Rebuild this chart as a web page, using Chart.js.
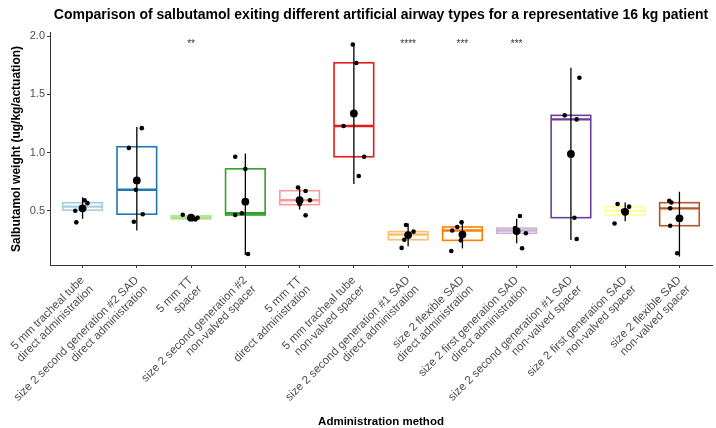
<!DOCTYPE html>
<html>
<head>
<meta charset="utf-8">
<script src="https://cdn.jsdelivr.net/npm/chart.js@4.4.1/dist/chart.umd.min.js"></script>
<style>
  html, body { margin: 0; padding: 0; background: #fff; }
</style>
</head>
<body>
<canvas id="salbutamolChart" width="716" height="428"></canvas>
<script>
// airway / administration groups (two-line tick labels)
var categories = [
  ['5 mm tracheal tube', 'direct administration'],
  ['size 2 second generation #2 SAD', 'direct administration'],
  ['5 mm TT', 'spacer'],
  ['size 2 second generation #2', 'non-valved spacer'],
  ['5 mm TT', 'direct administration'],
  ['5 mm tracheal tube', 'non-valved spacer'],
  ['size 2 second generation #1 SAD', 'direct administration'],
  ['size 2 flexible SAD', 'direct administration'],
  ['size 2 first generation SAD', 'direct administration'],
  ['size 2 second generation #1 SAD', 'non-valved spacer'],
  ['size 2 first generation SAD', 'non-valved spacer'],
  ['size 2 flexible SAD', 'non-valved spacer']
];
var boxColors = ['#A6CEE3', '#1F78B4', '#B2DF8A', '#33A02C', '#FB9A99', '#E31A1C',
                 '#FDBF6F', '#FF7F00', '#CAB2D6', '#6A3D9A', '#FFFF99', '#B15928'];

// box statistics (ug/kg/actuation)
var q1      = [0.505, 0.47, 0.430, 0.463, 0.552, 0.964, 0.250, 0.245, 0.306, 0.44, 0.463, 0.371];
var medians = [0.535, 0.68, 0.440, 0.478, 0.590, 1.228, 0.295, 0.330, 0.330, 1.285, 0.497, 0.520];
var q3      = [0.568, 1.05, 0.455, 0.860, 0.672, 1.772, 0.320, 0.360, 0.350, 1.32, 0.535, 0.569];

// mean with 95% CI
var means  = [0.52, 0.76, 0.44, 0.578, 0.59, 1.337, 0.29, 0.295, 0.325, 0.988, 0.49, 0.434];
var ciLow  = [0.43, 0.33, 0.42, 0.12, 0.51, 0.73, 0.195, 0.176, 0.22, 0.248, 0.41, 0.105];
var ciHigh = [0.615, 1.22, 0.465, 0.993, 0.695, 1.94, 0.39, 0.42, 0.43, 1.73, 0.57, 0.663];

// individual measurements and their horizontal jitter (category units)
var pointValues = [
  [0.40, 0.50, 0.53, 0.565, 0.59],
  [1.04, 1.21, 0.68, 0.47, 0.405],
  [0.465, 0.435, 0.44, 0.425, 0.44],
  [0.964, 0.858, 0.478, 0.463, 0.128],
  [0.70, 0.67, 0.59, 0.555, 0.46],
  [1.93, 1.77, 1.228, 0.964, 0.798],
  [0.377, 0.32, 0.295, 0.25, 0.18],
  [0.40, 0.36, 0.33, 0.245, 0.154],
  [0.454, 0.35, 0.33, 0.306, 0.177],
  [1.643, 1.32, 1.285, 0.44, 0.257],
  [0.557, 0.535, 0.49, 0.50, 0.39],
  [0.586, 0.57, 0.52, 0.37, 0.134]
];
var pointJitter = [
  [-0.116, -0.134, 0.02, 0.09, 0.037],
  [-0.147, 0.092, -0.018, 0.11, -0.055],
  [-0.153, -0.03, 0.025, 0.08, 0.12],
  [-0.187, 0.0, -0.064, -0.187, 0.05],
  [-0.03, 0.11, 0.19, 0.0, 0.11],
  [-0.02, 0.045, -0.19, 0.19, 0.09],
  [-0.04, 0.1, 0.0, -0.07, -0.12],
  [-0.016, -0.095, -0.187, -0.028, -0.205],
  [0.06, -0.03, 0.0, 0.17, 0.1],
  [0.156, -0.114, 0.106, 0.064, 0.106],
  [-0.14, 0.073, 0.006, -0.04, -0.196],
  [-0.187, -0.15, -0.17, -0.17, -0.04]
];

var sigLabels = ['', '', '**', '', '', '', '****', '***', '***', '', '', ''];
var sigLevel = 1.935;
var yTicks = [0.5, 1.0, 1.5, 2.0];

var jitterData = [];
pointValues.forEach(function(vals, i) {
  vals.forEach(function(v, j) {
    jitterData.push({ x: i + pointJitter[i][j], y: v });
  });
});
var meanData = means.map(function(m, i) { return { x: i, y: m }; });

var FONT = "'Liberation Sans', Arial, sans-serif";

// boxes, medians and CI lines, drawn under the points
var boxPlotPlugin = {
  id: 'boxPlot',
  afterLayout: function(chart) {
    // centre the main title over the panel, as ggplot does
    if (chart.titleBlock) {
      chart.titleBlock.left = chart.chartArea.left;
      chart.titleBlock.right = chart.chartArea.right;
    }
  },
  beforeDatasetsDraw: function(chart) {
    var ctx = chart.ctx;
    var xs = chart.scales.x, ys = chart.scales.y;
    var half = xs.getPixelForValue(0.365) - xs.getPixelForValue(0);
    ctx.save();
    categories.forEach(function(c, i) {
      var cx = xs.getPixelForValue(i);
      var top = ys.getPixelForValue(q3[i]);
      var bot = ys.getPixelForValue(q1[i]);
      var med = ys.getPixelForValue(medians[i]);
      ctx.strokeStyle = boxColors[i];
      ctx.lineWidth = 1.6;
      ctx.strokeRect(cx - half, top, 2 * half, bot - top);
      ctx.lineWidth = 2.4;
      ctx.beginPath();
      ctx.moveTo(cx - half, med);
      ctx.lineTo(cx + half, med);
      ctx.stroke();
      ctx.strokeStyle = '#000';
      ctx.lineWidth = 1.3;
      ctx.beginPath();
      ctx.moveTo(cx, ys.getPixelForValue(ciLow[i]));
      ctx.lineTo(cx, ys.getPixelForValue(ciHigh[i]));
      ctx.stroke();
    });
    ctx.restore();
  },
  afterDatasetsDraw: function(chart) {
    var ctx = chart.ctx;
    var xs = chart.scales.x, ys = chart.scales.y;
    ctx.save();
    ctx.fillStyle = '#333';
    ctx.font = '10px ' + FONT;
    ctx.textAlign = 'center';
    ctx.textBaseline = 'middle';
    sigLabels.forEach(function(s, i) {
      if (s) ctx.fillText(s, xs.getPixelForValue(i), ys.getPixelForValue(sigLevel));
    });
    ctx.restore();
  }
};

var ctx = document.getElementById('salbutamolChart').getContext('2d');
var chart = new Chart(ctx, {
  type: 'scatter',
  data: {
    datasets: [{
      label: 'measurements',
      data: jitterData,
      backgroundColor: '#000',
      borderColor: '#000',
      pointRadius: 2.3,
      borderWidth: 0
    }, {
      label: 'mean',
      data: meanData,
      backgroundColor: '#000',
      borderColor: '#000',
      pointRadius: 3.9,
      borderWidth: 0
    }]
  },
  options: {
    responsive: false,
    animation: false,
    layout: { padding: { right: 1 } },
    plugins: {
      legend: { display: false },
      tooltip: { enabled: false },
      title: {
        display: true,
        text: 'Comparison of salbutamol exiting different artificial airway types for a representative 16 kg patient',
        color: '#000',
        font: { family: FONT, size: 14, weight: 'bold' },
        padding: { top: 7, bottom: 9 }
      }
    },
    scales: {
      x: {
        type: 'linear',
        min: -0.6,
        max: 11.6,
        afterBuildTicks: function(scale) {
          scale.ticks = categories.map(function(c, i) { return { value: i }; });
        },
        afterFit: function(scale) { scale.height = 163; },
        ticks: {
          autoSkip: false,
          minRotation: 45,
          maxRotation: 45,
          padding: 6,
          color: '#4D4D4D',
          font: { family: FONT, size: 11.5, lineHeight: 1.1 },
          callback: function(value) { return categories[value]; }
        },
        grid: { drawOnChartArea: false, drawTicks: true, tickLength: 3, color: '#333' },
        border: { display: true, color: '#333', width: 1 },
        title: {
          display: true,
          text: 'Administration method',
          color: '#000',
          font: { family: FONT, size: 11.5, weight: 'bold' },
          padding: { top: 0, bottom: -1 }
        }
      },
      y: {
        type: 'linear',
        min: 0.033,
        max: 2.03,
        afterBuildTicks: function(scale) {
          scale.ticks = yTicks.map(function(v) { return { value: v }; });
        },
        afterFit: function(scale) { scale.width = 50; },
        ticks: {
          padding: 2,
          color: '#4D4D4D',
          font: { family: FONT, size: 11 },
          callback: function(value) { return value.toFixed(1); }
        },
        grid: { drawOnChartArea: false, drawTicks: true, tickLength: 3, color: '#333' },
        border: { display: true, color: '#333', width: 1 },
        title: {
          display: true,
          text: 'Salbutamol weight (ug/kg/actuation)',
          color: '#000',
          font: { family: FONT, size: 12, weight: 'bold' },
          padding: { top: 9, bottom: 0 }
        }
      }
    }
  },
  plugins: [boxPlotPlugin]
});
</script>
</body>
</html>
